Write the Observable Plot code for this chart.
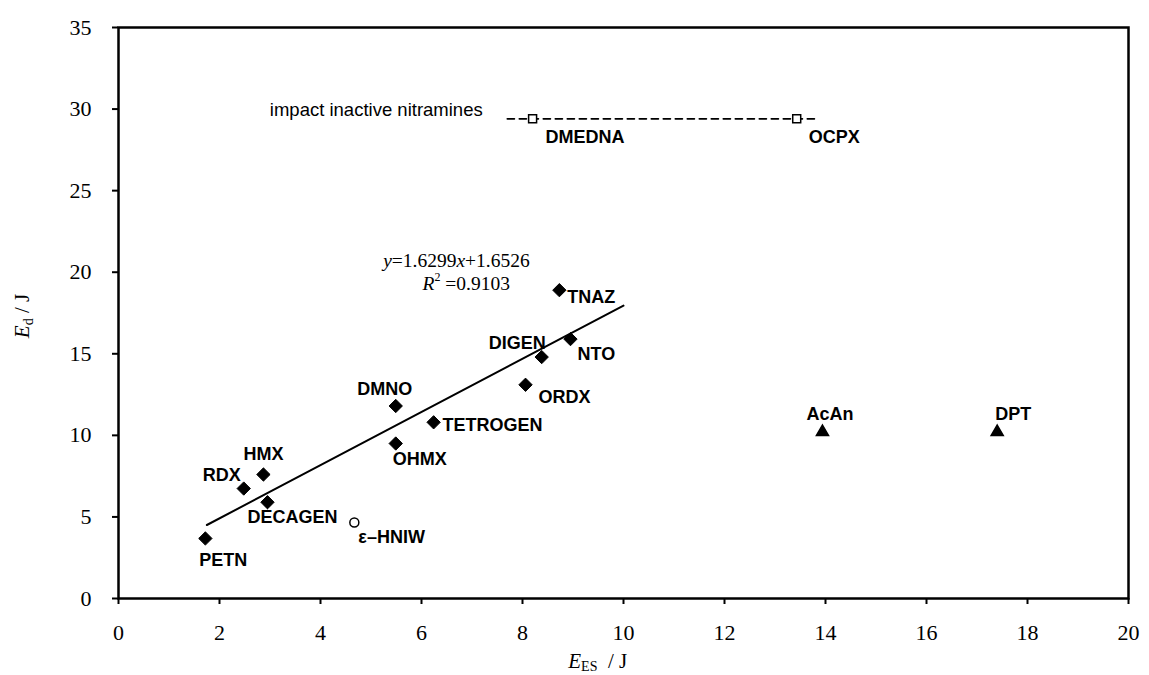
<!DOCTYPE html>
<html>
<head>
<meta charset="utf-8">
<script src="https://cdn.jsdelivr.net/npm/d3@7"></script>
<script src="https://cdn.jsdelivr.net/npm/@observablehq/plot@0.6"></script>
<style>
  html, body { margin: 0; padding: 0; background: #fff; }
  #chart { width: 1149px; height: 675px; }
</style>
</head>
<body>
<div id="chart"></div>
<script>
// ---- Data ----
const activeNames = ["PETN", "RDX", "HMX", "DECAGEN", "DMNO", "OHMX", "TETROGEN", "ORDX", "DIGEN", "NTO", "TNAZ"];
const activeEES   = [1.72, 2.48, 2.87, 2.95, 5.49, 5.49, 6.24, 8.06, 8.38, 8.95, 8.73];
const activeEd    = [3.68, 6.74, 7.6, 5.9, 11.8, 9.5, 10.8, 13.1, 14.8, 15.9, 18.9];

const hniwNames = ["ε–HNIW"];
const hniwEES   = [4.67];
const hniwEd    = [4.66];

const triNames = ["AcAn", "DPT"];
const triEES   = [13.94, 17.4];
const triEd    = [10.2, 10.2];

const inactiveNames = ["DMEDNA", "OCPX"];
const inactiveEES   = [8.2, 13.43];
const inactiveEd    = [29.4, 29.4];
const inactiveLineX = [7.7, 13.8];
const inactiveCaption = "impact inactive nitramines";

// regression y = 1.6299x + 1.6526, R² = 0.9103, drawn over x in [1.75, 10]
const fitSlope = 1.6299, fitIntercept = 1.6526, fitR2 = 0.9103;
const fitRange = [1.75, 10];

const xTicks = [0, 2, 4, 6, 8, 10, 12, 14, 16, 18, 20];
const yTicks = [0, 5, 10, 15, 20, 25, 30, 35];

// ---- label placement (style only) ----
const labelPlace = {
  "PETN":     {dx: -6,  dy: 22, anchor: "start"},
  "RDX":      {dx: -3,  dy: -13, anchor: "end"},
  "HMX":      {dx: 0,   dy: -20, anchor: "middle"},
  "DECAGEN":  {dx: -20, dy: 15, anchor: "start"},
  "DMNO":     {dx: -11, dy: -17, anchor: "middle"},
  "OHMX":     {dx: -3,  dy: 16, anchor: "start"},
  "TETROGEN": {dx: 9,   dy: 3, anchor: "start"},
  "ORDX":     {dx: 13,  dy: 12, anchor: "start"},
  "DIGEN":    {dx: 4,   dy: -14, anchor: "end"},
  "NTO":      {dx: 7,   dy: 15, anchor: "start"},
  "TNAZ":     {dx: 8,   dy: 7, anchor: "start"},
  "ε–HNIW":   {dx: 4,   dy: 15, anchor: "start"},
  "AcAn":     {dx: -16, dy: -18, anchor: "start"},
  "DPT":      {dx: -2,  dy: -18, anchor: "start"},
  "DMEDNA":   {dx: 13,  dy: 18, anchor: "start"},
  "OCPX":     {dx: 12,  dy: 18, anchor: "start"}
};

const zip = (n, x, y) => n.map((name, i) => ({name, x: x[i], y: y[i]}));
const active = zip(activeNames, activeEES, activeEd);
const hniw = zip(hniwNames, hniwEES, hniwEd);
const tri = zip(triNames, triEES, triEd);
const inactive = zip(inactiveNames, inactiveEES, inactiveEd);
const fitLine = fitRange.map(x => ({x, y: fitSlope * x + fitIntercept}));
const dashLine = inactiveLineX.map(x => ({x, y: inactiveEd[0]}));
const allLabels = [...active, ...hniw, ...tri, ...inactive];

const labelFont = "Arial, 'Liberation Sans', sans-serif";
const serif = "'Times New Roman', 'Liberation Serif', 'DejaVu Serif', serif";

const perLabel = allLabels.map(d => Plot.text([d], {
  x: "x", y: "y", text: "name",
  dx: labelPlace[d.name].dx, dy: labelPlace[d.name].dy,
  textAnchor: labelPlace[d.name].anchor,
  fontFamily: labelFont, fontWeight: "bold", fontSize: 18, fill: "#000"
}));

const svg = Plot.plot({
  width: 1149,
  height: 675,
  marginLeft: 118,
  marginRight: 21,
  marginTop: 27,
  marginBottom: 77,
  style: {fontFamily: serif, background: "#fff", color: "#000"},
  x: {domain: [0, 20]},
  y: {domain: [0, 35]},
  marks: [
    Plot.axisX({ticks: xTicks, tickSize: 6, tickPadding: 20, fontSize: 22, strokeWidth: 2, label: null, fontFamily: serif}),
    Plot.axisY({ticks: yTicks, tickSize: 6, tickPadding: 21, fontSize: 22, strokeWidth: 2, label: null, fontFamily: serif}),
    Plot.frame({stroke: "#000", strokeWidth: 2.5}),
    Plot.line(fitLine, {x: "x", y: "y", stroke: "#000", strokeWidth: 2}),
    Plot.line(dashLine, {x: "x", y: "y", stroke: "#000", strokeWidth: 1.8, strokeDasharray: "7,5"}),
    Plot.dot(active, {x: "x", y: "y", symbol: "diamond2", r: 6, fill: "#000", stroke: "#000", strokeWidth: 1}),
    Plot.dot(hniw, {x: "x", y: "y", symbol: "circle", r: 4.5, fill: "#fff", stroke: "#000", strokeWidth: 1.5}),
    Plot.dot(tri, {x: "x", y: "y", symbol: "triangle", r: 4.5, fill: "#000", stroke: "#000"}),
    Plot.dot(inactive, {x: "x", y: "y", symbol: "square", r: 4.5, fill: "#fff", stroke: "#000", strokeWidth: 1.5}),
    ...perLabel
  ]
});

document.getElementById("chart").appendChild(svg);

// ---- extra text with mixed styles (subscripts, italics) ----
const xs = svg.scale("x");
const ys = svg.scale("y");
const root = d3.select(svg);

// inactive group caption
root.append("text")
  .attr("x", xs.apply(inactiveLineX[0]) - 237).attr("y", ys.apply(inactiveEd[0]) - 2)
  .attr("text-anchor", "start")
  .attr("font-family", labelFont).attr("font-size", 18.5).attr("fill", "#000")
  .text(inactiveCaption);

// regression equation
const eq = root.append("text")
  .attr("x", xs.apply(5.25)).attr("y", ys.apply(20.3))
  .attr("text-anchor", "start")
  .attr("font-family", serif).attr("font-size", 19.5).attr("fill", "#000");
eq.append("tspan").attr("font-style", "italic").text("y");
eq.append("tspan").text("=" + fitSlope);
eq.append("tspan").attr("font-style", "italic").text("x");
eq.append("tspan").text("+" + fitIntercept);

const r2 = root.append("text")
  .attr("x", xs.apply(6.03)).attr("y", ys.apply(18.9))
  .attr("text-anchor", "start")
  .attr("font-family", serif).attr("font-size", 19.5).attr("fill", "#000");
r2.append("tspan").attr("font-style", "italic").text("R");
r2.append("tspan").attr("font-size", 12).attr("dy", -9).text("2");
r2.append("tspan").attr("dy", 9).text(" =" + fitR2);

// y axis label  E_d / J
const yl = root.append("text")
  .attr("transform", "translate(29," + 316 + ") rotate(-90)")
  .attr("text-anchor", "middle")
  .attr("font-family", serif).attr("font-size", 21).attr("fill", "#000");
yl.append("tspan").attr("font-style", "italic").text("E");
yl.append("tspan").attr("font-size", 14).attr("dy", 4).text("d");
yl.append("tspan").attr("dy", -4).text(" / J");

// x axis label  E_ES / J
const xl = root.append("text")
  .attr("x", xs.apply(9.5)).attr("y", 668)
  .attr("text-anchor", "middle")
  .attr("font-family", serif).attr("font-size", 21).attr("fill", "#000");
xl.append("tspan").attr("font-style", "italic").text("E");
xl.append("tspan").attr("font-size", 14).attr("dy", 3).text("ES");
xl.append("tspan").attr("dy", -3).text("  / J");
</script>
</body>
</html>
